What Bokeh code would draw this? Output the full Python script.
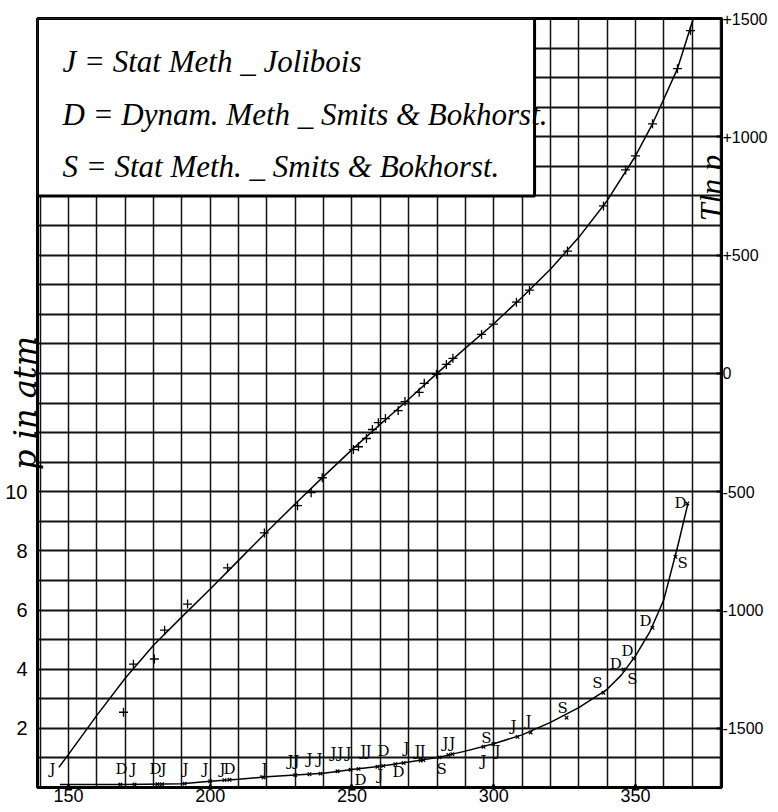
from bokeh.plotting import figure
from bokeh.models import Range1d, LinearAxis, FixedTicker, Label, BoxAnnotation, CustomJSTickFormatter
from bokeh.embed import file_html
from bokeh.resources import INLINE
from bokeh.core.properties import value

# ---------------- data ----------------
# upper curve: T ln p (right axis) against T
upper_curve_T = [146.6, 150, 160, 170, 180, 190, 200, 210, 220, 230, 240, 250, 260,
                 270, 280, 290, 300, 310, 320, 330, 340, 350, 356, 360, 364.8, 370.4]
upper_curve_R = [-1665, -1610, -1445, -1288, -1149, -1029, -911, -790, -669, -551, -435,
                 -322, -215, -109, 0, 107, 210, 322, 440, 575, 730, 919, 1055, 1160, 1288, 1500]
upper_obs_T = [169.4, 172.9, 180.3, 183.9, 192.0, 206.1, 219.1, 230.8, 235.6, 239.5,
               250.5, 252.3, 255.1, 257.2, 259.3, 261.8, 266.3, 268.7, 273.7, 275.5,
               279.8, 283.3, 285.6, 295.7, 299.9, 308.0, 312.6, 326.0, 338.7, 346.5,
               350.0, 356.0, 364.8, 369.4]
upper_obs_R = [-1432, -1229, -1207, -1085, -975, -822, -674, -559, -504, -441,
               -322, -310, -275, -237, -208, -191, -157, -119, -80, -42,
               -4, 38, 64, 165, 208, 301, 352, 517, 708, 860,
               919, 1055, 1288, 1449]

# lower curve: p in atm (left axis) against T
lower_curve_T = [147, 170, 190, 200, 210, 220, 230, 240, 250, 260, 270, 280, 290, 300,
                 310, 320, 330, 340, 345, 350, 355, 360, 365, 368.5]
lower_curve_p = [0.10, 0.10, 0.13, 0.21, 0.28, 0.36, 0.42, 0.48, 0.61, 0.72, 0.86, 1.01,
                 1.23, 1.48, 1.78, 2.20, 2.70, 3.32, 3.80, 4.45, 5.25, 6.35, 8.20, 9.60]
lower_obs_T = [168.3, 173.3, 181.4, 183.0, 191.0, 200.0, 205.0, 206.8, 218.8, 230.0,
               235.0, 238.9, 244.9, 249.5, 252.3, 259.0, 261.0, 265.3, 268.2, 274.2,
               275.2, 280.9, 284.0, 285.4, 296.4, 299.9, 308.4, 313.0, 325.7, 338.7,
               345.8, 349.3, 356.0, 364.1, 368.3]
lower_obs_p = [0.10, 0.10, 0.11, 0.11, 0.13, 0.21, 0.25, 0.26, 0.34, 0.42,
               0.45, 0.47, 0.55, 0.60, 0.63, 0.70, 0.73, 0.79, 0.83, 0.91,
               0.93, 1.02, 1.10, 1.13, 1.38, 1.47, 1.71, 1.86, 2.36, 3.20,
               3.99, 4.36, 5.40, 7.80, 9.60]

# method letters (J, D, S) written beside the observations
letter_text = ["J", "D", "J", "D", "J", "J", "J", "J", "D", "J",
               "J", "J", "J", "J", "J", "J", "J", "J", "J", "D",
               "D", "J", "D", "J", "J", "J", "S", "J", "J", "S",
               "J", "J", "J", "J", "S", "D", "S", "D", "D", "S", "D",
               "S"]
letter_T = [144.4, 168.7, 172.9, 180.7, 183.5, 191.3, 198.3, 204.3, 206.8, 219.1,
            228.3, 230.4, 235.0, 238.5, 243.5, 245.9, 248.8, 254.0, 255.8, 261.1,
            253.0, 260.0, 266.4, 269.2, 273.1, 274.9, 281.6, 283.0, 285.4, 297.4,
            296.4, 301.3, 307.0, 312.3, 324.3, 343.0, 348.9, 347.2, 353.5, 366.6, 365.9,
            336.6]
letter_p = [0.64, 0.64, 0.64, 0.64, 0.64, 0.64, 0.64, 0.64, 0.64, 0.64,
            0.91, 0.91, 0.98, 0.98, 1.18, 1.18, 1.18, 1.25, 1.25, 1.25,
            0.27, 0.41, 0.51, 1.32, 1.25, 1.25, 0.61, 1.49, 1.49, 1.69,
            0.91, 1.25, 2.09, 2.26, 2.70, 4.19, 3.68, 4.63, 5.64, 7.60, 9.63,
            3.55]

legend_lines = ["J = Stat Meth _ Jolibois",
                "D = Dynam. Meth _ Smits & Bokhorst.",
                "S = Stat Meth. _ Smits & Bokhorst."]
x_ticks = [150, 200, 250, 300, 350]
p_ticks = [2, 4, 6, 8, 10]
r_ticks = [-1500, -1000, -500, 0, 500, 1000, 1500]
x_grid = list(range(140, 381, 10))
p_grid = list(range(0, 27))

# ---------------- figure ----------------
X0, X1 = 139.07, 380.34
P0, P1 = 0, 26
R0, R1 = -1750, 1500

p = figure(width=777, height=811, x_range=Range1d(X0, X1), y_range=Range1d(P0, P1),
           output_backend="svg", toolbar_location=None,
           min_border_left=37, min_border_right=56, min_border_top=18, min_border_bottom=24)
p.extra_y_ranges = {"tlnp": Range1d(R0, R1)}
p.background_fill_color = "white"
p.border_fill_color = "white"
p.outline_line_color = "black"
p.outline_line_width = 3
p.outline_line_alpha = 1.0

# grid
p.xgrid.ticker = FixedTicker(ticks=x_grid)
p.ygrid.ticker = FixedTicker(ticks=p_grid)
p.xgrid.grid_line_color = "#111111"
p.xgrid.grid_line_width = 1.5
p.ygrid.grid_line_color = "#111111"
p.ygrid.grid_line_width = 1.9

tick_font = "Liberation Sans"

xa = p.xaxis[0]
xa.ticker = FixedTicker(ticks=x_ticks)
xa.axis_line_color = None
xa.major_tick_in = 3
xa.major_tick_out = 0
xa.major_tick_line_width = 3
xa.minor_tick_line_color = None
xa.major_label_standoff = 1
xa.major_label_text_font = tick_font
xa.major_label_text_font_size = "18px"
xa.major_label_text_color = "black"

ya = p.yaxis[0]
ya.ticker = FixedTicker(ticks=p_ticks)
ya.axis_line_color = None
ya.major_tick_line_color = None
ya.minor_tick_line_color = None
ya.major_label_standoff = 4
ya.major_label_text_font = tick_font
ya.major_label_text_font_size = "20px"
ya.major_label_text_color = "black"
ya.axis_label = "p in atm"
ya.axis_label_text_font = "DejaVu Serif"
ya.axis_label_text_font_style = "italic"
ya.axis_label_text_font_size = "32px"
ya.axis_label_text_color = "black"
ya.axis_label_standoff = -42

ra = LinearAxis(y_range_name="tlnp", ticker=FixedTicker(ticks=r_ticks),
                formatter=CustomJSTickFormatter(code="return tick > 0 ? '+' + tick.toFixed(0) : tick.toFixed(0);"))
ra.axis_line_color = None
ra.major_tick_in = 5
ra.major_tick_out = 1
ra.major_tick_line_width = 2
ra.minor_tick_line_color = None
ra.major_label_standoff = 0
ra.major_label_text_font = tick_font
ra.major_label_text_font_size = "16px"
ra.major_label_text_color = "black"
p.add_layout(ra, "right")

# curves
p.line(upper_curve_T, upper_curve_R, y_range_name="tlnp", line_color="black", line_width=1.5)
p.scatter(upper_obs_T, upper_obs_R, y_range_name="tlnp", marker="cross", size=9,
          line_color="black", line_width=1.3)
p.line(lower_curve_T, lower_curve_p, line_color="black", line_width=1.5)
p.scatter(lower_obs_T, lower_obs_p, marker="x", size=5, line_color="black", line_width=1.2)
p.text(x=letter_T, y=letter_p, text=letter_text, text_font=value("DejaVu Serif"),
       text_font_size="15px", text_align="center", text_baseline="middle", text_color="black")

# legend box
p.add_layout(BoxAnnotation(left=X0, right=314.4, bottom=20.0, top=P1, fill_color="white",
                           fill_alpha=1.0, line_color="black", line_alpha=1.0, line_width=3,
                           level="annotation"))
legend_y = [24.56, 22.77, 21.0]
for txt, yy in zip(legend_lines, legend_y):
    p.add_layout(Label(x=147.9, y=yy, text=txt, text_font="Liberation Serif",
                       text_font_style="italic", text_font_size="31px",
                       text_baseline="middle", text_color="black"))

# right-hand title, written along the frame edge
p.add_layout(Label(x=376.5, y=20.27, text="Tln p", angle=1.5708, text_font="Liberation Serif",
                   text_font_style="italic", text_font_size="32px", text_align="center",
                   text_baseline="middle", text_color="black"))

open("out.html", "w").write(file_html(p, INLINE))
